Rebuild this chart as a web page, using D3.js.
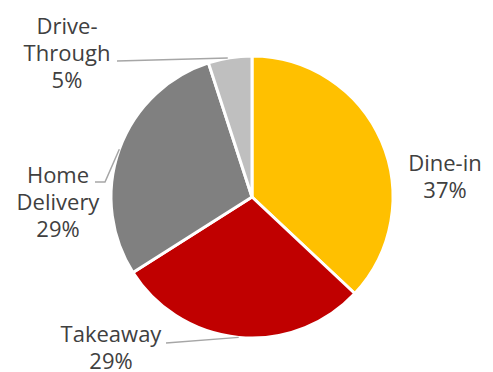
<!DOCTYPE html>
<html>
<head>
<meta charset="utf-8">
<script src="https://cdn.jsdelivr.net/npm/d3@7"></script>
<style>
  body { margin: 0; background: #fff; }
  svg text { font-family: "Open Sans", sans-serif; font-size: 22px; fill: #404040; }
</style>
</head>
<body>
<div id="chart"></div>
<script>
// Channel share data
var categories = ["Dine-in", "Takeaway", "Home Delivery", "Drive-Through"];
var shares = [37, 29, 29, 5];
var colors = ["#FFC000", "#C00000", "#808080", "#BFBFBF"];
// label lines as drawn in the chart
var labelLines = [["Dine-in", "37%"], ["Takeaway", "29%"], ["Home", "Delivery", "29%"], ["Drive-", "Through", "5%"]];

var width = 493, height = 372;
var cx = 252, cy = 197, radius = 141;

var svg = d3.select("#chart")
            .append("svg")
                .attr("width", width)
                .attr("height", height)

var pie = d3.pie().sort(null).value(function(d) { return d; });
var arcs = pie(shares);

var arc = d3.arc().innerRadius(0).outerRadius(radius);

var g = svg.append("g")
           .attr("transform", `translate(${cx}, ${cy})`)

g.selectAll("path")
 .data(arcs)
 .enter()
 .append("path")
    .attr("d", arc)
    .style("fill", function(d, i) { return colors[i]; })
    .attr("stroke", "#fff")
    .attr("stroke-width", 3)
    .attr("stroke-linejoin", "round")

// Label anchor positions (centre of text block, first line baseline)
var labelPos = [[445, 171], [111, 342], [58, 183], [67, 34]];
var lineHeight = 27;

labelLines.forEach(function(lines, i) {
    var t = svg.append("text")
               .attr("text-anchor", "middle")
    lines.forEach(function(s, j) {
        t.append("tspan")
         .attr("x", labelPos[i][0])
         .attr("y", labelPos[i][1] + j * lineHeight)
         .text(s)
    });
});

// Leader lines: from label toward slice edge
function edgePoint(i, frac) {
    var a = arcs[i].startAngle + (arcs[i].endAngle - arcs[i].startAngle) * frac;
    return [cx + Math.sin(a) * radius, cy - Math.cos(a) * radius];
}

var leaders = [
    { idx: 1, frac: 0.5, from: [[166, 343]] },
    { idx: 2, frac: 0.5, from: [[95, 182], [105, 182]] },
    { idx: 3, frac: 0.45, from: [[117, 61]] }
];

leaders.forEach(function(l) {
    var pts = l.from.slice();
    var p = edgePoint(l.idx, l.frac);
    pts.push(p);
    svg.append("polyline")
       .attr("points", pts.map(function(q) { return q.join(","); }).join(" "))
       .attr("fill", "none")
       .attr("stroke", "#A6A6A6")
       .attr("stroke-width", 1.5)
});
</script>
</body>
</html>
